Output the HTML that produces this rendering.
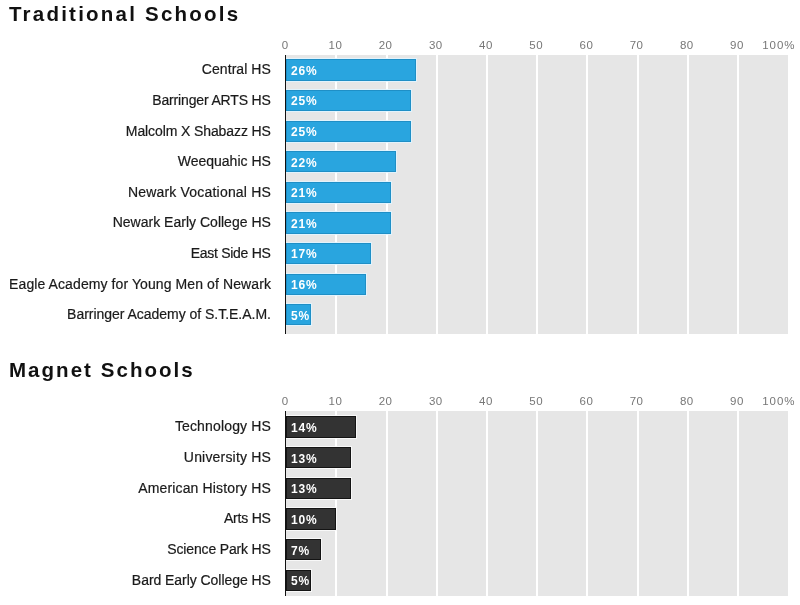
<!DOCTYPE html>
<html><head><meta charset="utf-8"><style>
html,body{margin:0;padding:0;background:#fff;}
body{width:800px;height:605px;position:relative;overflow:hidden;font-family:"Liberation Sans",sans-serif;}
div{position:absolute;white-space:nowrap;}
#wrap{left:0;top:0;width:800px;height:605px;will-change:transform;}
.title{left:9px;font-size:20.5px;font-weight:bold;color:#111;line-height:30px;}
.ax{width:40px;text-align:center;font-size:11.5px;color:#777;line-height:16px;letter-spacing:0.5px;}
.plot{background:#e6e6e6;}
.grid{width:2px;background:#fff;}
.bar{left:285.5px;}
.b1{background:#29a5df;box-shadow:inset 0 0 0 1px #1f8fc6,0 0 0 1px rgba(225,245,255,0.85);}
.b2{background:#333;box-shadow:inset 0 0 0 1px #141414,0 0 0 1px rgba(250,250,250,0.85);}
.val{left:290.9px;margin-top:1.6px;font-size:12px;font-weight:bold;color:#fff;letter-spacing:0.9px;}
.lab{right:529.1px;font-size:14px;color:#1a1a1a;text-align:right;-webkit-text-stroke:0.2px #1a1a1a;}
.axis{left:284.5px;width:1.4px;background:#111;}
</style></head>
<body><div id="wrap">
<div class="title" style="top:-0.7px;letter-spacing:2.220px">Traditional Schools</div>
<div class="ax" style="left:265.20px;top:36.7px">0</div>
<div class="ax" style="left:315.40px;top:36.7px">10</div>
<div class="ax" style="left:365.60px;top:36.7px">20</div>
<div class="ax" style="left:415.80px;top:36.7px">30</div>
<div class="ax" style="left:466.00px;top:36.7px">40</div>
<div class="ax" style="left:516.20px;top:36.7px">50</div>
<div class="ax" style="left:566.40px;top:36.7px">60</div>
<div class="ax" style="left:616.60px;top:36.7px">70</div>
<div class="ax" style="left:666.80px;top:36.7px">80</div>
<div class="ax" style="left:717.00px;top:36.7px">90</div>
<div class="ax" style="left:762.2px;top:36.7px;text-align:left;letter-spacing:0.95px">100%</div>
<div class="plot" style="left:285.5px;top:55px;width:502.60px;height:278.50px"></div>
<div class="grid" style="left:335.30px;top:55px;height:278.50px"></div>
<div class="grid" style="left:385.50px;top:55px;height:278.50px"></div>
<div class="grid" style="left:435.70px;top:55px;height:278.50px"></div>
<div class="grid" style="left:485.90px;top:55px;height:278.50px"></div>
<div class="grid" style="left:536.10px;top:55px;height:278.50px"></div>
<div class="grid" style="left:586.30px;top:55px;height:278.50px"></div>
<div class="grid" style="left:636.50px;top:55px;height:278.50px"></div>
<div class="grid" style="left:686.70px;top:55px;height:278.50px"></div>
<div class="grid" style="left:736.90px;top:55px;height:278.50px"></div>
<div class="bar b1" style="top:59.30px;width:130.52px;height:21.4px"></div>
<div class="val" style="top:59.30px;height:21.4px;line-height:21.4px">26%</div>
<div class="lab" style="top:59.30px;height:21.4px;line-height:21.4px;letter-spacing:0.072px;margin-right:-0.072px">Central HS</div>
<div class="bar b1" style="top:89.90px;width:125.50px;height:21.4px"></div>
<div class="val" style="top:89.90px;height:21.4px;line-height:21.4px">25%</div>
<div class="lab" style="top:89.90px;height:21.4px;line-height:21.4px;letter-spacing:-0.154px;margin-right:0.154px">Barringer ARTS HS</div>
<div class="bar b1" style="top:120.50px;width:125.50px;height:21.4px"></div>
<div class="val" style="top:120.50px;height:21.4px;line-height:21.4px">25%</div>
<div class="lab" style="top:120.50px;height:21.4px;line-height:21.4px;letter-spacing:-0.104px;margin-right:0.104px">Malcolm X Shabazz HS</div>
<div class="bar b1" style="top:151.10px;width:110.44px;height:21.4px"></div>
<div class="val" style="top:151.10px;height:21.4px;line-height:21.4px">22%</div>
<div class="lab" style="top:151.10px;height:21.4px;line-height:21.4px;letter-spacing:0.008px;margin-right:-0.008px">Weequahic HS</div>
<div class="bar b1" style="top:181.70px;width:105.42px;height:21.4px"></div>
<div class="val" style="top:181.70px;height:21.4px;line-height:21.4px">21%</div>
<div class="lab" style="top:181.70px;height:21.4px;line-height:21.4px;letter-spacing:0.195px;margin-right:-0.195px">Newark Vocational HS</div>
<div class="bar b1" style="top:212.30px;width:105.42px;height:21.4px"></div>
<div class="val" style="top:212.30px;height:21.4px;line-height:21.4px">21%</div>
<div class="lab" style="top:212.30px;height:21.4px;line-height:21.4px;letter-spacing:0.012px;margin-right:-0.012px">Newark Early College HS</div>
<div class="bar b1" style="top:242.90px;width:85.34px;height:21.4px"></div>
<div class="val" style="top:242.90px;height:21.4px;line-height:21.4px">17%</div>
<div class="lab" style="top:242.90px;height:21.4px;line-height:21.4px;letter-spacing:-0.279px;margin-right:0.279px">East Side HS</div>
<div class="bar b1" style="top:273.50px;width:80.32px;height:21.4px"></div>
<div class="val" style="top:273.50px;height:21.4px;line-height:21.4px">16%</div>
<div class="lab" style="top:273.50px;height:21.4px;line-height:21.4px;letter-spacing:0.095px;margin-right:-0.095px">Eagle Academy for Young Men of Newark</div>
<div class="bar b1" style="top:304.10px;width:25.10px;height:21.4px"></div>
<div class="val" style="top:304.10px;height:21.4px;line-height:21.4px">5%</div>
<div class="lab" style="top:304.10px;height:21.4px;line-height:21.4px;letter-spacing:-0.028px;margin-right:0.028px">Barringer Academy of S.T.E.A.M.</div>
<div class="axis" style="top:55px;height:278.50px"></div>
<div class="title" style="top:355.3px;letter-spacing:2.040px">Magnet Schools</div>
<div class="ax" style="left:265.20px;top:392.7px">0</div>
<div class="ax" style="left:315.40px;top:392.7px">10</div>
<div class="ax" style="left:365.60px;top:392.7px">20</div>
<div class="ax" style="left:415.80px;top:392.7px">30</div>
<div class="ax" style="left:466.00px;top:392.7px">40</div>
<div class="ax" style="left:516.20px;top:392.7px">50</div>
<div class="ax" style="left:566.40px;top:392.7px">60</div>
<div class="ax" style="left:616.60px;top:392.7px">70</div>
<div class="ax" style="left:666.80px;top:392.7px">80</div>
<div class="ax" style="left:717.00px;top:392.7px">90</div>
<div class="ax" style="left:762.2px;top:392.7px;text-align:left;letter-spacing:0.95px">100%</div>
<div class="plot" style="left:285.5px;top:411.3px;width:502.60px;height:184.40px"></div>
<div class="grid" style="left:335.30px;top:411.3px;height:184.40px"></div>
<div class="grid" style="left:385.50px;top:411.3px;height:184.40px"></div>
<div class="grid" style="left:435.70px;top:411.3px;height:184.40px"></div>
<div class="grid" style="left:485.90px;top:411.3px;height:184.40px"></div>
<div class="grid" style="left:536.10px;top:411.3px;height:184.40px"></div>
<div class="grid" style="left:586.30px;top:411.3px;height:184.40px"></div>
<div class="grid" style="left:636.50px;top:411.3px;height:184.40px"></div>
<div class="grid" style="left:686.70px;top:411.3px;height:184.40px"></div>
<div class="grid" style="left:736.90px;top:411.3px;height:184.40px"></div>
<div class="bar b2" style="top:416.40px;width:70.28px;height:21.2px"></div>
<div class="val" style="top:416.40px;height:21.2px;line-height:21.2px">14%</div>
<div class="lab" style="top:416.40px;height:21.2px;line-height:21.2px;letter-spacing:0.154px;margin-right:-0.154px">Technology HS</div>
<div class="bar b2" style="top:447.06px;width:65.26px;height:21.2px"></div>
<div class="val" style="top:447.06px;height:21.2px;line-height:21.2px">13%</div>
<div class="lab" style="top:447.06px;height:21.2px;line-height:21.2px;letter-spacing:0.187px;margin-right:-0.187px">University HS</div>
<div class="bar b2" style="top:477.72px;width:65.26px;height:21.2px"></div>
<div class="val" style="top:477.72px;height:21.2px;line-height:21.2px">13%</div>
<div class="lab" style="top:477.72px;height:21.2px;line-height:21.2px;letter-spacing:0.157px;margin-right:-0.157px">American History HS</div>
<div class="bar b2" style="top:508.38px;width:50.20px;height:21.2px"></div>
<div class="val" style="top:508.38px;height:21.2px;line-height:21.2px">10%</div>
<div class="lab" style="top:508.38px;height:21.2px;line-height:21.2px;letter-spacing:-0.200px;margin-right:0.200px">Arts HS</div>
<div class="bar b2" style="top:539.04px;width:35.14px;height:21.2px"></div>
<div class="val" style="top:539.04px;height:21.2px;line-height:21.2px">7%</div>
<div class="lab" style="top:539.04px;height:21.2px;line-height:21.2px;letter-spacing:-0.159px;margin-right:0.159px">Science Park HS</div>
<div class="bar b2" style="top:569.70px;width:25.10px;height:21.2px"></div>
<div class="val" style="top:569.70px;height:21.2px;line-height:21.2px">5%</div>
<div class="lab" style="top:569.70px;height:21.2px;line-height:21.2px;letter-spacing:-0.051px;margin-right:0.051px">Bard Early College HS</div>
<div class="axis" style="top:411.3px;height:184.40px"></div>
</div></body></html>
